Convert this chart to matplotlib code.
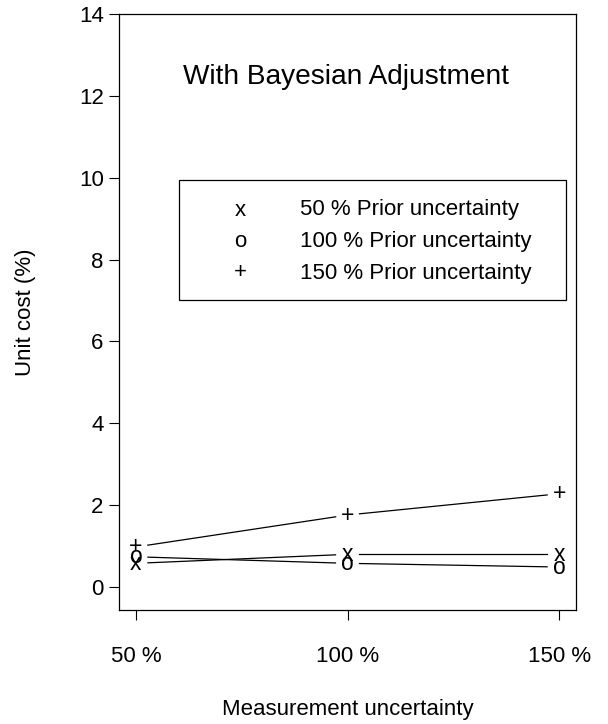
import matplotlib
matplotlib.use("Agg")
import matplotlib.pyplot as plt
from matplotlib.patches import Rectangle
import numpy as np

plt.rcParams['font.family'] = ['Liberation Sans', 'DejaVu Sans']

categories = ["50 %", "100 %", "150 %"]
series_labels = ["50 % Prior uncertainty", "100 % Prior uncertainty", "150 % Prior uncertainty"]
series_symbols = ["x", "o", "+"]
prior50 = [0.58, 0.80, 0.80]
prior100 = [0.74, 0.58, 0.49]
prior150 = [0.98, 1.76, 2.28]
series = [prior50, prior100, prior150]
yticks = [0, 2, 4, 6, 8, 10, 12, 14]

FS = 16
fig = plt.figure(figsize=(6.08, 7.24), dpi=100)
L, R, T, B = 119, 576, 14, 610
ax = fig.add_axes([L/608, 1 - B/724, (R-L)/608, (B-T)/724])
xpos = np.arange(1, len(categories) + 1)
ax.set_xlim(0.92, 3.08)
ax.set_ylim(-0.56, 14.0)
fig.canvas.draw()

gap = 12  # pixels
for vals, sym in zip(series, series_symbols):
    pts = ax.transData.transform(np.column_stack([xpos, vals]))
    for i in range(len(pts) - 1):
        p0, p1 = pts[i], pts[i + 1]
        d = p1 - p0
        u = d / np.hypot(*d)
        seg = ax.transData.inverted().transform(np.vstack([p0 + u * gap, p1 - u * gap]))
        ax.plot(seg[:, 0], seg[:, 1], color='black', lw=0.9)
    for xv, yv in zip(xpos, vals):
        ax.text(xv, yv, sym, ha='center', va='center', fontsize=16.5, color='black')

ax.set_xticks(xpos)
ax.set_xticklabels(categories, fontsize=FS)
ax.set_yticks(yticks)
ax.set_yticklabels([str(t) for t in yticks], fontsize=FS)
ax.tick_params(direction='out', length=7, width=0.8, pad=4)
ax.tick_params(axis='x', pad=19)
for s in ax.spines.values():
    s.set_linewidth(0.9)

ax.set_xlabel("Measurement uncertainty", fontsize=FS, labelpad=23)
ax.set_ylabel("Unit cost (%)", fontsize=FS, labelpad=31)

fx = lambda px: (px - L) / (R - L)
fy = lambda py: (B - py) / (B - T)

ax.text(fx(183), fy(77), "With Bayesian Adjustment", fontsize=20.2, ha='left', va='center',
        transform=ax.transAxes)

# legend box
ax.add_patch(Rectangle((fx(179), fy(300)), fx(566) - fx(179), fy(180) - fy(300),
                       transform=ax.transAxes, fill=False, lw=0.9, ec='black'))
for i, (sym, lab) in enumerate(zip(series_symbols, series_labels)):
    yy = fy(210 + 31.5 * i)
    ax.text(fx(240), yy, sym, transform=ax.transAxes, ha='center', va='center', fontsize=FS)
    ax.text(fx(300), yy, lab, transform=ax.transAxes, ha='left', va='center', fontsize=FS)

fig.savefig("out.png", dpi=100)
